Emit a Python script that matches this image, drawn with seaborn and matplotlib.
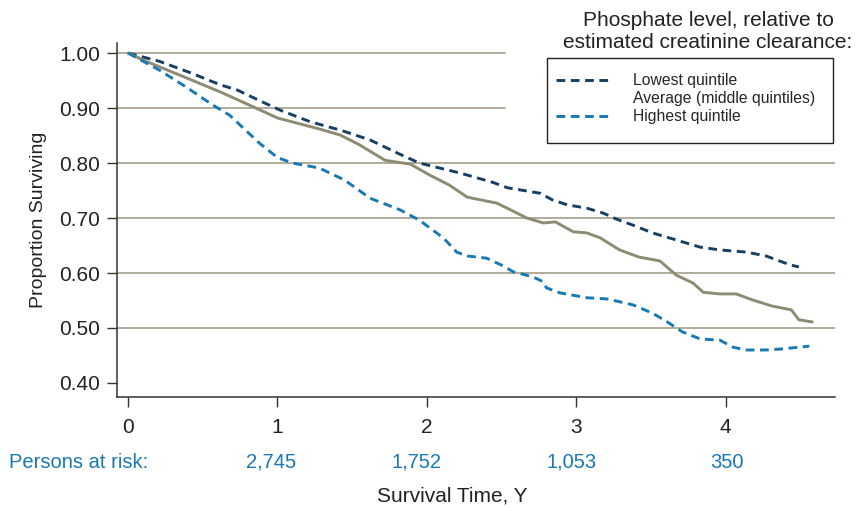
import numpy as np
import pandas as pd
import seaborn as sns
import matplotlib.pyplot as plt
import matplotlib.transforms as mtransforms
from matplotlib.lines import Line2D
from matplotlib.patches import Rectangle

# Survival curves
low_t = [0, 0.21, 0.41, 0.62, 0.73, 0.90, 1.02, 1.22, 1.42, 1.62, 1.82, 1.95, 2.22, 2.44, 2.54,
         2.76, 2.84, 2.94, 3.07, 3.18, 3.27, 3.38, 3.51, 3.67, 3.83, 3.96, 4.14, 4.27, 4.43, 4.49]
low_s = [1.0, 0.985, 0.965, 0.942, 0.933, 0.911, 0.896, 0.875, 0.86, 0.842, 0.816, 0.80, 0.782, 0.765, 0.755,
         0.745, 0.733, 0.724, 0.718, 0.709, 0.698, 0.687, 0.673, 0.66, 0.647, 0.642, 0.638, 0.631, 0.615, 0.611]

avg_t = [0, 0.13, 0.39, 0.62, 0.84, 1.0, 1.28, 1.42, 1.55, 1.72, 1.89, 2.02, 2.15, 2.27, 2.47, 2.67,
         2.78, 2.86, 2.98, 3.07, 3.16, 3.29, 3.42, 3.56, 3.67, 3.78, 3.85, 3.96, 4.07, 4.18,
         4.31, 4.44, 4.49, 4.58]
avg_s = [1.0, 0.984, 0.955, 0.929, 0.902, 0.882, 0.862, 0.851, 0.833, 0.805, 0.798, 0.778, 0.76, 0.738, 0.727,
         0.70, 0.691, 0.693, 0.675, 0.673, 0.664, 0.642, 0.629, 0.622, 0.596, 0.582, 0.565, 0.562, 0.562, 0.551,
         0.54, 0.533, 0.515, 0.511]

high_t = [0, 0.21, 0.39, 0.57, 0.68, 0.88, 1.0, 1.1, 1.28, 1.45, 1.62, 1.82, 1.95, 2.11, 2.20,
          2.27, 2.40, 2.51, 2.58, 2.71, 2.78, 2.80, 2.89, 3.07, 3.20, 3.27, 3.38, 3.51, 3.61, 3.71,
          3.83, 3.96, 4.05, 4.14, 4.27, 4.38, 4.56]
high_s = [1.0, 0.969, 0.938, 0.905, 0.887, 0.836, 0.81, 0.80, 0.791, 0.769, 0.736, 0.715, 0.696, 0.664, 0.638,
          0.631, 0.627, 0.613, 0.602, 0.593, 0.584, 0.573, 0.564, 0.555, 0.553, 0.549, 0.542, 0.527, 0.511, 0.493,
          0.48, 0.478, 0.465, 0.46, 0.46, 0.462, 0.467]

risk_x = [0.96, 1.93, 2.97, 4.01]
risk_labels = ["2,745", "1,752", "1,053", "350"]
y_ticks = [0.40, 0.50, 0.60, 0.70, 0.80, 0.90, 1.00]

navy = "#173f62"
blue = "#1a78b4"
olive = "#8e8b74"
grid_c = "#aaa795"
txt = "#222222"

sns.set_style("white")
plt.rcParams['font.family'] = ['Liberation Sans', 'DejaVu Sans']

fig = plt.figure(figsize=(8.57, 5.08), dpi=100)
ax = fig.add_axes([0.1365, 0.2185, 0.8375, 0.6965])

# gridlines (top two stop short of the legend)
for v in y_ticks[1:]:
    xmax = 0.54 if v >= 0.9 else 1.0
    ax.axhline(v, xmin=0, xmax=xmax, color=grid_c, lw=1.3, zorder=0)

dash = (0, (3.0, 1.9))
lw = 2.1
sns.lineplot(x=low_t, y=low_s, ax=ax, color=navy, lw=lw, sort=False, estimator=None, linestyle=dash)
sns.lineplot(x=avg_t, y=avg_s, ax=ax, color=olive, lw=lw, sort=False, estimator=None)
sns.lineplot(x=high_t, y=high_s, ax=ax, color=blue, lw=lw, sort=False, estimator=None, linestyle=dash)

ax.set_xlim(-0.074, 4.73)
ax.set_ylim(0.3745, 1.018)
ax.set_yticks(y_ticks)
ax.set_yticklabels([f"{v:.2f}" for v in y_ticks], fontsize=15, color=txt)
ax.set_xticks([0, 1, 2, 3, 4])
ax.set_xticklabels(["0", "1", "2", "3", "4"], fontsize=15, color=txt)
ax.tick_params(axis="both", length=7, width=1, color="#333333", direction="out",
               bottom=True, left=True, pad=5)
ax.tick_params(axis="x", pad=8)
for s in ["top", "right"]:
    ax.spines[s].set_visible(False)
for s in ["left", "bottom"]:
    ax.spines[s].set_color("#333333")
    ax.spines[s].set_linewidth(1.1)

ax.set_ylabel("Proportion Surviving", fontsize=14, color=txt, labelpad=9)
ax.set_xlabel("")

# persons at risk row
trans = mtransforms.blended_transform_factory(ax.transData, fig.transFigure)
fig.text(9 / 857, 1 - 462 / 508, "Persons at risk:", color=blue, fontsize=14.5, va="center", ha="left")
for xv, lab in zip(risk_x, risk_labels):
    ax.text(xv, 1 - 462 / 508, lab, transform=trans, color=blue, fontsize=14.5,
            va="center", ha="center", clip_on=False)
fig.text(452 / 857, 1 - 496 / 508, "Survival Time, Y", color=txt, fontsize=15,
         va="center", ha="center")

# legend title + box
fig.text(708 / 857, 1 - 31 / 508, "Phosphate level, relative to\nestimated creatinine clearance:",
         fontsize=15, ha="center", va="center", color=txt, linespacing=1.2)
fig.patches.append(Rectangle((547 / 857, 1 - 143 / 508), 286 / 857, 85 / 508,
                             transform=fig.transFigure, fill=False, edgecolor=txt, lw=1.0))
handles = [
    Line2D([], [], color=navy, lw=lw, linestyle=dash),
    Line2D([], [], color="none", lw=0),
    Line2D([], [], color=blue, lw=lw, linestyle=dash),
]
labels = ["Lowest quintile", "Average (middle quintiles)", "Highest quintile"]
leg = fig.legend(handles, labels, loc="upper left", bbox_to_anchor=(556 / 857, 1 - 73 / 508),
                 fontsize=11.3, frameon=False, handlelength=3.5, handletextpad=1.4,
                 borderpad=0, labelspacing=0.2, borderaxespad=0)

fig.savefig("out.png", dpi=100)
